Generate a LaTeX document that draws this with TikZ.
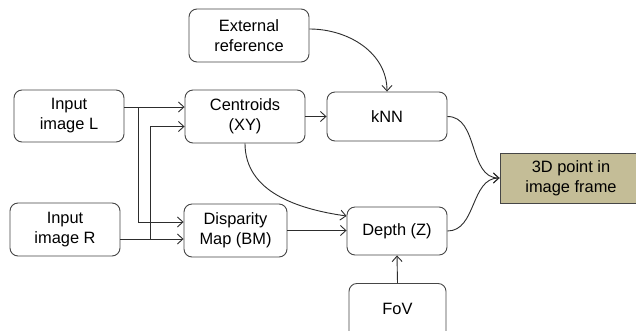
\documentclass[tikz,border=0pt]{standalone}
\usepackage{fontspec}
\setmainfont{Liberation Sans}
\usetikzlibrary{arrows.meta,calc}
\definecolor{tanfill}{RGB}{196,189,151}
\definecolor{edgecol}{RGB}{45,45,45}
\definecolor{boxcol}{RGB}{70,70,70}
\begin{document}
\begin{tikzpicture}[x=1pt,y=-1pt,
  box/.style={draw=boxcol,line width=0.9pt,rounded corners=8pt,align=center,inner sep=2pt,font=\fontsize{16.4}{20}\selectfont},
  conn/.style={draw=edgecol,line width=0.9pt,-{Straight Barb[length=5.5pt,width=10pt]}}]
\useasboundingbox (0,0) rectangle (636,330);
\fill[white] (0,0) rectangle (636,330);
\node[box,minimum width=110pt,minimum height=52pt] (inL) at (69,116) {Input\\image L};
\node[box,minimum width=110pt,minimum height=53pt] (inR) at (65,229.5) {Input\\image R};
\node[box,minimum width=120pt,minimum height=53pt] (ext) at (249,35.5) {External\\reference};
\node[box,minimum width=120pt,minimum height=53pt] (cen) at (245,116.5) {Centroids\\(XY)};
\node[box,minimum width=103pt,minimum height=53pt] (disp) at (235.5,230.5) {Disparity\\Map (BM)};
\node[box,minimum width=120pt,minimum height=49pt] (knn) at (387,116.5) {kNN};
\node[box,minimum width=100pt,minimum height=48pt] (depth) at (397,231) {Depth (Z)};
\node[box,minimum width=97pt,text height=29pt,text depth=30pt,anchor=north] (fov) at (397.5,283) {FoV};
\node[draw=boxcol,fill=tanfill,line width=0.9pt,align=center,minimum width=142pt,minimum height=50pt,font=\fontsize{16.4}{20}\selectfont] (out) at (571,178) {3D point in\\image frame};
\coordinate (jL) at (138,107);
\coordinate (jR) at (150,239);
\draw[conn] ([yshift=9pt]inL.east) -- ([yshift=9pt]inL.east -| cen.west);
\draw[conn] (jL) |- ([yshift=8.5pt]disp.west);
\draw[conn] ([yshift=-9.5pt]inR.east) -- ([yshift=-9.5pt]inR.east -| disp.west);
\draw[conn] (jR) |- ([yshift=-10pt]cen.west);
\draw[conn] (cen.east) -- (knn.west);
\draw[conn] ([yshift=6.5pt]ext.east) to[out=0,in=90] (knn.north);
\draw[conn] (cen.south) to[out=-90,in=172] ([yshift=15pt]depth.west);
\draw[conn] (disp.east) -- (disp.east -| depth.west);
\draw[conn] (fov.north) -- (depth.south);
\draw[conn] (knn.east) to[out=0,in=180] (out.west);
\draw[conn] (depth.east) to[out=0,in=180] (out.west);
\end{tikzpicture}
\end{document}
